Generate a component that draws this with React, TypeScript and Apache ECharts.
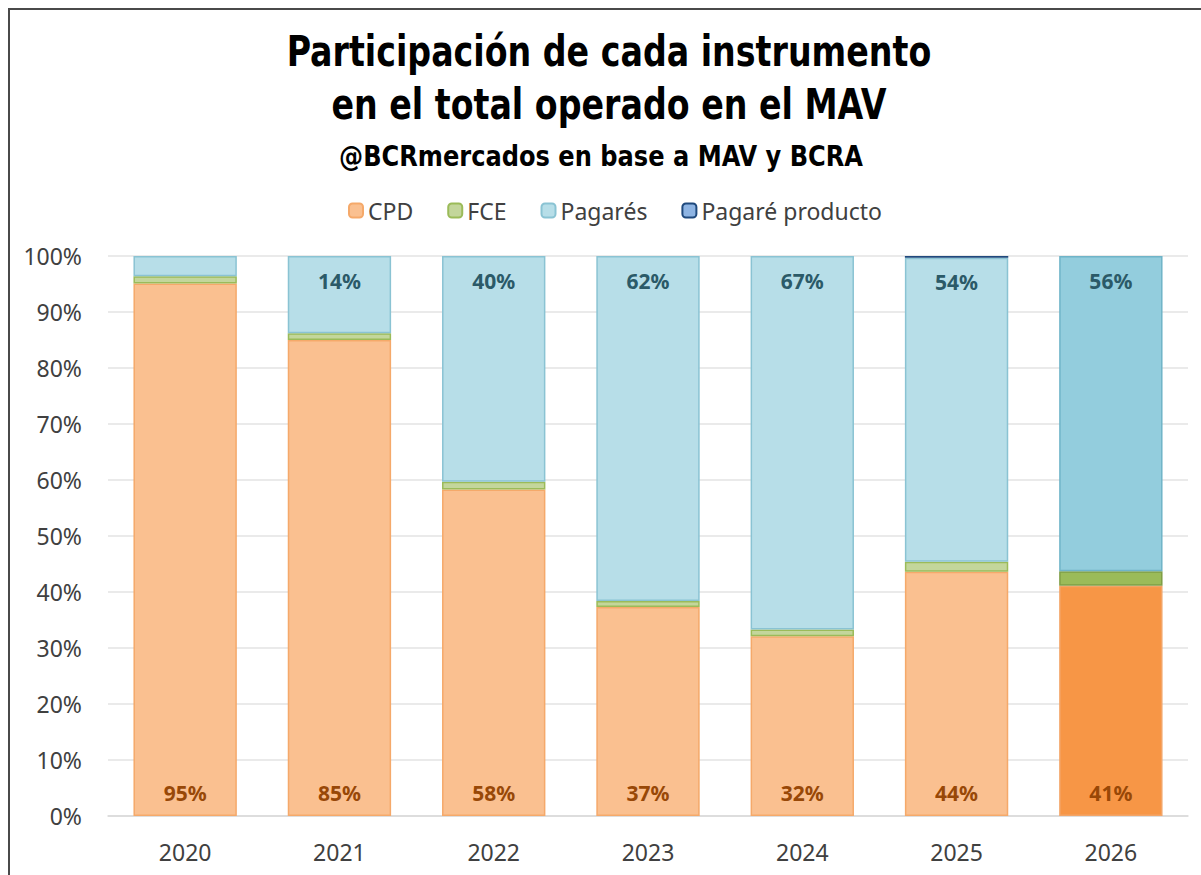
import React, { useEffect, useRef } from "react";
import * as echarts from "echarts";

const categories = ["2020", "2021", "2022", "2023", "2024", "2025", "2026"];
const cpd = [95.1, 85.0, 58.3, 37.3, 32.1, 43.6, 41.1];
const fce = [1.3, 1.2, 1.4, 1.1, 1.2, 1.8, 2.6];
const pagares = [3.6, 13.8, 40.3, 61.6, 66.7, 54.3, 56.3];
const pagareProducto = [0, 0, 0, 0, 0, 0.3, 0];
const yTicks = [0, 10, 20, 30, 40, 50, 60, 70, 80, 90, 100];
const titleLines = ["Participación de cada instrumento", "en el total operado en el MAV"];
const subtitle = "@BCRmercados en base a MAV y BCRA";

const TITLE_FONT = "'DejaVu Sans Condensed', 'Liberation Sans', sans-serif";
const BODY_FONT = "'Noto Sans', 'Open Sans', sans-serif";

export default function App() {
  const ref = useRef<HTMLDivElement>(null);
  useEffect(() => {
    if (!ref.current) return;
    const chart = echarts.init(ref.current, undefined, { renderer: "svg" });
    const last = categories.length - 1;

    const mk = (
      name: string,
      values: number[],
      fill: string,
      border: string,
      strongFill: string,
      strongBorder: string,
      label?: any,
      hideLabelIdx: number[] = []
    ) => ({
      name,
      type: "bar",
      stack: "total",
      barWidth: "67%",
      itemStyle: { color: fill, borderColor: border, borderWidth: 1.5 },
      label: label,
      data: values.map((v, i) => {
        if (v === 0) return "-";
        const item: any = { value: v };
        if (i === last) {
          item.itemStyle = { color: strongFill, borderColor: strongBorder, borderWidth: 1.5 };
        }
        if (hideLabelIdx.includes(i)) item.label = { show: false };
        return item;
      }),
    });

    const labelBase = {
      show: true,
      fontFamily: BODY_FONT,
      fontWeight: "bold",
      fontSize: 21,
      formatter: (p: any) => Math.round(p.value) + "%",
    };

    const titleStyle = (text: string, size: number) => ({
      text,
      fontFamily: TITLE_FONT,
      fontWeight: "bold",
      fontSize: size,
      fill: "#000000",
      textAlign: "center",
      textVerticalAlign: "middle",
    });

    chart.setOption({
      animation: false,
      backgroundColor: "#ffffff",
      legend: {
        top: 194,
        left: 343,
        itemWidth: 14,
        itemHeight: 14,
        itemGap: 34,
        textStyle: { fontFamily: BODY_FONT, fontSize: 23, color: "#404040" },
        data: ["CPD", "FCE", "Pagarés", "Pagaré producto"],
      },
      grid: { left: 108, right: 13, top: 256, bottom: 59 },
      xAxis: {
        type: "category",
        data: categories,
        axisLine: { show: true, lineStyle: { color: "#D9D9D9", width: 1.5 } },
        axisTick: { show: false },
        axisLabel: { fontFamily: BODY_FONT, fontSize: 23, color: "#404040", margin: 24 },
      },
      yAxis: {
        type: "value",
        min: 0,
        max: 100,
        interval: 10,
        axisLine: { show: false },
        axisTick: { show: false },
        axisLabel: {
          fontFamily: BODY_FONT,
          fontSize: 23,
          color: "#404040",
          margin: 26,
          formatter: (v: number) => (yTicks.includes(v) ? v + "%" : ""),
        },
        splitLine: { lineStyle: { color: "#E3E3E3", width: 1.5 } },
      },
      series: [
        mk("CPD", cpd, "#FAC090", "#F5A96A", "#F79646", "#F3A466", {
          ...labelBase,
          position: "insideBottom",
          distance: 13,
          color: "#984807",
        }),
        mk("FCE", fce, "#C3D69B", "#9BBB59", "#9BBB59", "#7F9E45"),
        mk(
          "Pagarés",
          pagares,
          "#B7DEE8",
          "#8AC3D3",
          "#93CDDD",
          "#6FB4C8",
          { ...labelBase, position: "insideTop", distance: 14, color: "#2B5A68" },
          [0]
        ),
        mk("Pagaré producto", pagareProducto, "#8EB4E3", "#1F497D", "#8EB4E3", "#7F9FC6"),
      ],
      graphic: [
        {
          type: "polyline",
          shape: { points: [[9, 875], [9, 9], [1201, 9]] },
          style: { stroke: "#4a4a4a", lineWidth: 2, fill: "none" },
          silent: true,
        },
        {
          type: "text",
          x: 609,
          y: 51,
          scaleX: 0.86,
          style: titleStyle(titleLines[0], 43),
          silent: true,
        },
        {
          type: "text",
          x: 609,
          y: 104,
          scaleX: 0.86,
          style: titleStyle(titleLines[1], 43),
          silent: true,
        },
        {
          type: "text",
          x: 601,
          y: 156,
          scaleX: 0.925,
          style: titleStyle(subtitle, 29),
          silent: true,
        },
      ],
    });
    return () => chart.dispose();
  }, []);

  return (
    <div
      ref={ref}
      style={{ position: "absolute", left: 0, top: 0, width: 1201, height: 875 }}
    />
  );
}
